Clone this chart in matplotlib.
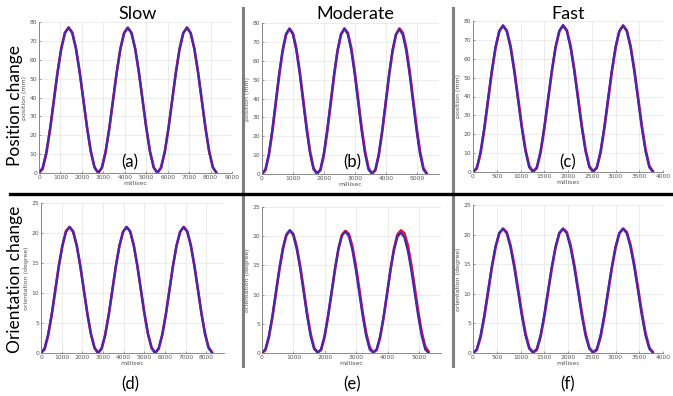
import matplotlib
matplotlib.use("Agg")
import matplotlib.pyplot as plt
from matplotlib.lines import Line2D

# sample times (ms) for each speed
t_slow = [0, 172, 345, 518, 690, 862, 1035, 1208, 1380, 1552, 1725, 1898, 2070, 2242, 2415, 2588,
          2760, 2932, 3105, 3278, 3450, 3622, 3795, 3968, 4140, 4312, 4485, 4658, 4830, 5002, 5175, 5348,
          5520, 5692, 5865, 6038, 6210, 6382, 6555, 6728, 6900, 7072, 7245, 7418, 7590, 7762, 7935, 8108, 8280]
t_moderate = [0, 111, 221, 332, 442, 553, 664, 774, 885, 995, 1106, 1217, 1327, 1438, 1548, 1659,
              1770, 1880, 1991, 2101, 2212, 2323, 2433, 2544, 2654, 2765, 2876, 2986, 3097, 3207, 3318, 3429,
              3539, 3650, 3760, 3871, 3982, 4092, 4203, 4313, 4424, 4535, 4645, 4756, 4866, 4977, 5088, 5198, 5309]
t_fast = [0, 79, 158, 237, 316, 395, 474, 553, 632, 711, 790, 869, 948, 1027, 1106, 1185,
          1264, 1343, 1422, 1501, 1580, 1659, 1738, 1817, 1896, 1975, 2054, 2133, 2212, 2291, 2370, 2449,
          2528, 2607, 2686, 2765, 2844, 2923, 3002, 3081, 3160, 3239, 3318, 3397, 3476, 3555, 3634, 3713, 3792]

# position (mm): blue = measured, red = reference
pos_slow_blue = [0, 2.9, 11.3, 23.8, 38.5, 53.2, 65.7, 74.1, 77.0, 74.1, 65.7, 53.2, 38.5, 23.8, 11.3, 2.9,
                 0.0, 2.9, 11.3, 23.8, 38.5, 53.2, 65.7, 74.1, 76.9, 74.1, 65.7, 53.2, 38.5, 23.8, 11.3, 2.9,
                 0.0, 2.9, 11.3, 23.8, 38.5, 53.2, 65.7, 74.1, 77.1, 74.1, 65.7, 53.2, 38.5, 23.8, 11.3, 2.9, 0.0]
pos_slow_red = [0, 2.2, 10.4, 23.0, 38.0, 53.0, 65.8, 74.3, 77.1, 74.4, 66.0, 53.5, 38.9, 24.1, 11.6, 3.1,
                0.1, 2.7, 11.0, 23.5, 38.3, 53.1, 65.8, 74.2, 77.0, 74.3, 66.0, 53.5, 38.8, 24.1, 11.5, 3.0,
                0.1, 2.8, 11.1, 23.6, 38.4, 53.2, 65.8, 74.2, 77.0, 74.2, 65.9, 53.4, 38.7, 24.0, 11.5, 3.0, 0.1]
pos_mod_blue = [0, 2.5, 10.8, 23.5, 38.4, 53.3, 65.9, 74.3, 77.0, 74.0, 65.5, 52.8, 38.0, 23.2, 10.8, 2.4,
                0.2, 2.4, 10.9, 23.6, 38.4, 53.2, 65.8, 74.2, 76.9, 74.0, 65.4, 52.7, 37.9, 23.1, 10.7, 2.3,
                0.2, 2.3, 10.6, 23.3, 38.2, 53.0, 65.6, 74.0, 76.7, 73.8, 65.2, 52.5, 37.7, 22.9, 10.6, 2.3, 0.0]
pos_mod_red = [0, 2.0, 9.8, 22.2, 37.0, 52.0, 64.9, 73.7, 77.0, 74.6, 66.6, 54.3, 39.6, 24.7, 12.0, 3.2,
               0.3, 1.9, 9.9, 22.3, 37.1, 52.1, 65.0, 73.8, 77.1, 74.7, 66.7, 54.4, 39.7, 24.8, 12.1, 3.3,
               0.3, 1.9, 9.8, 22.2, 37.0, 52.0, 64.9, 73.7, 77.1, 74.8, 66.8, 54.5, 39.8, 24.9, 12.1, 3.2, 0.2]
pos_fast_blue = [0, 2.2, 10.6, 23.5, 38.6, 53.7, 66.3, 74.8, 77.6, 74.5, 65.8, 53.0, 38.2, 23.3, 10.8, 2.4,
                 0.1, 2.5, 11.0, 23.9, 38.9, 53.8, 66.4, 74.8, 77.7, 74.6, 65.9, 53.1, 38.2, 23.3, 10.8, 2.5,
                 0.2, 2.6, 11.1, 24.0, 39.0, 53.9, 66.4, 74.8, 77.6, 74.5, 65.7, 52.9, 38.1, 23.2, 10.7, 2.4, 0.0]
pos_fast_red = [0, 1.8, 9.6, 22.3, 37.4, 52.6, 65.6, 74.4, 77.6, 75.0, 66.9, 54.4, 39.5, 24.5, 11.8, 3.1,
                0.3, 2.0, 10.1, 22.8, 37.8, 52.9, 65.8, 74.5, 77.7, 75.1, 67.0, 54.5, 39.7, 24.6, 11.9, 3.2,
                0.3, 2.1, 10.2, 22.9, 37.9, 53.0, 65.8, 74.5, 77.6, 75.0, 66.8, 54.3, 39.5, 24.5, 11.8, 3.2, 0.2]

# orientation (degree)
ori_slow_blue = [0, 0.8, 3.1, 6.5, 10.5, 14.5, 17.9, 20.2, 21.0, 20.2, 17.9, 14.5, 10.5, 6.5, 3.1, 0.8,
                 0.0, 0.8, 3.1, 6.5, 10.5, 14.5, 17.9, 20.2, 21.0, 20.2, 17.9, 14.5, 10.5, 6.5, 3.1, 0.8,
                 0.0, 0.8, 3.1, 6.5, 10.5, 14.5, 17.9, 20.2, 21.0, 20.2, 17.9, 14.5, 10.5, 6.5, 3.1, 0.8, 0.0]
ori_slow_red = [0, 0.6, 2.9, 6.3, 10.4, 14.5, 17.9, 20.3, 21.0, 20.3, 18.0, 14.6, 10.6, 6.6, 3.2, 0.9,
                0.0, 0.7, 3.0, 6.4, 10.4, 14.5, 17.9, 20.2, 21.0, 20.3, 18.0, 14.6, 10.6, 6.6, 3.2, 0.9,
                0.0, 0.7, 3.0, 6.4, 10.4, 14.5, 17.9, 20.2, 21.0, 20.3, 18.0, 14.6, 10.6, 6.6, 3.2, 0.9, 0.1]
ori_mod_blue = [0, 0.7, 3.0, 6.4, 10.5, 14.5, 18.0, 20.3, 21.0, 20.2, 17.8, 14.4, 10.4, 6.3, 2.9, 0.7,
                0.1, 0.6, 2.9, 6.4, 10.4, 14.4, 17.8, 20.1, 20.8, 20.0, 17.7, 14.3, 10.3, 6.3, 2.9, 0.6,
                0.1, 0.6, 2.8, 6.2, 10.2, 14.2, 17.6, 19.9, 20.6, 19.8, 17.5, 14.1, 10.2, 6.2, 2.9, 0.6, 0.0]
ori_mod_red = [0, 0.5, 2.7, 6.1, 10.1, 14.2, 17.7, 20.1, 21.0, 20.4, 18.2, 14.9, 10.9, 6.8, 3.3, 0.9,
               0.1, 0.5, 2.7, 6.1, 10.1, 14.2, 17.8, 20.2, 20.9, 20.4, 18.3, 15.0, 11.0, 6.9, 3.4, 1.0,
               0.1, 0.5, 2.6, 6.0, 10.1, 14.3, 17.9, 20.3, 21.0, 20.5, 18.4, 15.1, 11.1, 7.0, 3.5, 1.1, 0.2]
ori_fast_blue = [0, 0.6, 2.9, 6.4, 10.5, 14.6, 18.0, 20.3, 21.0, 20.2, 17.8, 14.4, 10.4, 6.3, 2.9, 0.7,
                 0.1, 0.7, 3.0, 6.5, 10.6, 14.6, 18.0, 20.3, 21.0, 20.2, 17.8, 14.4, 10.4, 6.3, 2.9, 0.7,
                 0.1, 0.7, 3.0, 6.5, 10.6, 14.6, 18.0, 20.3, 21.0, 20.2, 17.8, 14.4, 10.4, 6.3, 2.9, 0.7, 0.0]
ori_fast_red = [0, 0.5, 2.6, 6.0, 10.1, 14.3, 17.8, 20.2, 21.0, 20.4, 18.2, 14.9, 10.9, 6.8, 3.3, 0.9,
                0.1, 0.5, 2.7, 6.1, 10.2, 14.3, 17.8, 20.2, 21.0, 20.4, 18.2, 14.9, 10.9, 6.8, 3.3, 0.9,
                0.1, 0.5, 2.7, 6.1, 10.2, 14.3, 17.8, 20.2, 21.0, 20.4, 18.2, 14.9, 10.9, 6.8, 3.3, 0.9, 0.1]

speeds = ["Slow", "Moderate", "Fast"]
panel_tags = ["(a)", "(b)", "(c)", "(d)", "(e)", "(f)"]

W, H = 673, 396
fig = plt.figure(figsize=(W / 100, H / 100), dpi=100)
fig.patch.set_facecolor("white")

RED = "#e0142e"
BLUE = "#3e2ab4"
TICK_C = "#555555"
BIG_FONT = ["Lato", "DejaVu Sans"]


def rect(l, t, r, b):
    return [l / W, 1 - b / H, (r - l) / W, (b - t) / H]


def fx(x):
    return x / W


def fy(y):
    return 1 - y / H


def make_panel(box, t, red, blue, xmax, xticks, ymax, yticks, ylabel):
    ax = fig.add_axes(rect(*box))
    ax.plot(t, red, color=RED, lw=1.9, solid_joinstyle="round", solid_capstyle="round")
    ax.plot(t, blue, color=BLUE, lw=1.6, solid_joinstyle="round", solid_capstyle="round")
    ax.set_xlim(0, xmax)
    ax.set_ylim(0, ymax)
    ax.set_xticks(xticks)
    ax.set_yticks(yticks)
    ax.grid(True, color="#e4e4e4", lw=0.5)
    ax.set_axisbelow(True)
    for s in ["top", "right"]:
        ax.spines[s].set_visible(False)
    for s in ["left", "bottom"]:
        ax.spines[s].set_color("#777777")
        ax.spines[s].set_linewidth(0.6)
    ax.tick_params(labelsize=4.3, colors=TICK_C, length=1.5, width=0.4, pad=1.5, direction="in")
    ax.set_xlabel("millisec", fontsize=4.5, color=TICK_C, labelpad=1)
    ax.set_ylabel(ylabel, fontsize=4.5, color=TICK_C, labelpad=1.5)
    return ax


top_boxes = [(39, 22, 232, 173), (262, 23, 439, 174), (473, 21, 663, 172)]
bot_boxes = [(41, 203, 224, 353), (262, 207, 441, 353), (473, 205, 663, 353)]
xmaxes = [9000, 5700, 4000]
xtick_sets = [list(range(0, 9001, 1000)), list(range(0, 5001, 1000)), list(range(0, 4001, 500))]
times = [t_slow, t_moderate, t_fast]
pos_red = [pos_slow_red, pos_mod_red, pos_fast_red]
pos_blue = [pos_slow_blue, pos_mod_blue, pos_fast_blue]
ori_red = [ori_slow_red, ori_mod_red, ori_fast_red]
ori_blue = [ori_slow_blue, ori_mod_blue, ori_fast_blue]
bot_xmaxes = [8850, 5700, 4000]
bot_xticks = [list(range(0, 8001, 1000)), list(range(0, 5001, 1000)), list(range(0, 4001, 500))]

for i in range(3):
    make_panel(top_boxes[i], times[i], pos_red[i], pos_blue[i], xmaxes[i], xtick_sets[i],
               80, list(range(0, 81, 10)), "position (mm)")
    make_panel(bot_boxes[i], times[i], ori_red[i], ori_blue[i], bot_xmaxes[i], bot_xticks[i],
               25, list(range(0, 26, 5)), "orientation (degree)")

# column titles and panel tags
title_x = [138, 355, 568]
for i, name in enumerate(speeds):
    fig.text(fx(title_x[i]), fy(14), name, fontsize=13, family=BIG_FONT, ha="center", va="center")
tag_x = [130, 352, 568]
for i in range(3):
    fig.text(fx(tag_x[i]), fy(162), panel_tags[i], fontsize=12, family=BIG_FONT, ha="center", va="center")
    fig.text(fx(tag_x[i]), fy(384), panel_tags[i + 3], fontsize=12, family=BIG_FONT, ha="center", va="center")

# row titles
fig.text(fx(15), fy(106), "Position change", fontsize=12.5, family=BIG_FONT, rotation=90,
         ha="center", va="center")
fig.text(fx(15), fy(279), "Orientation change", fontsize=12.5, family=BIG_FONT, rotation=90,
         ha="center", va="center")

# separator lines
for x in [243, 453]:
    fig.add_artist(Line2D([fx(x), fx(x)], [fy(8), fy(366)], color="#808080", lw=2.2))
fig.add_artist(Line2D([fx(10), fx(673)], [fy(194), fy(194)], color="black", lw=2.4))

fig.savefig("out.png", dpi=100, facecolor="white")
